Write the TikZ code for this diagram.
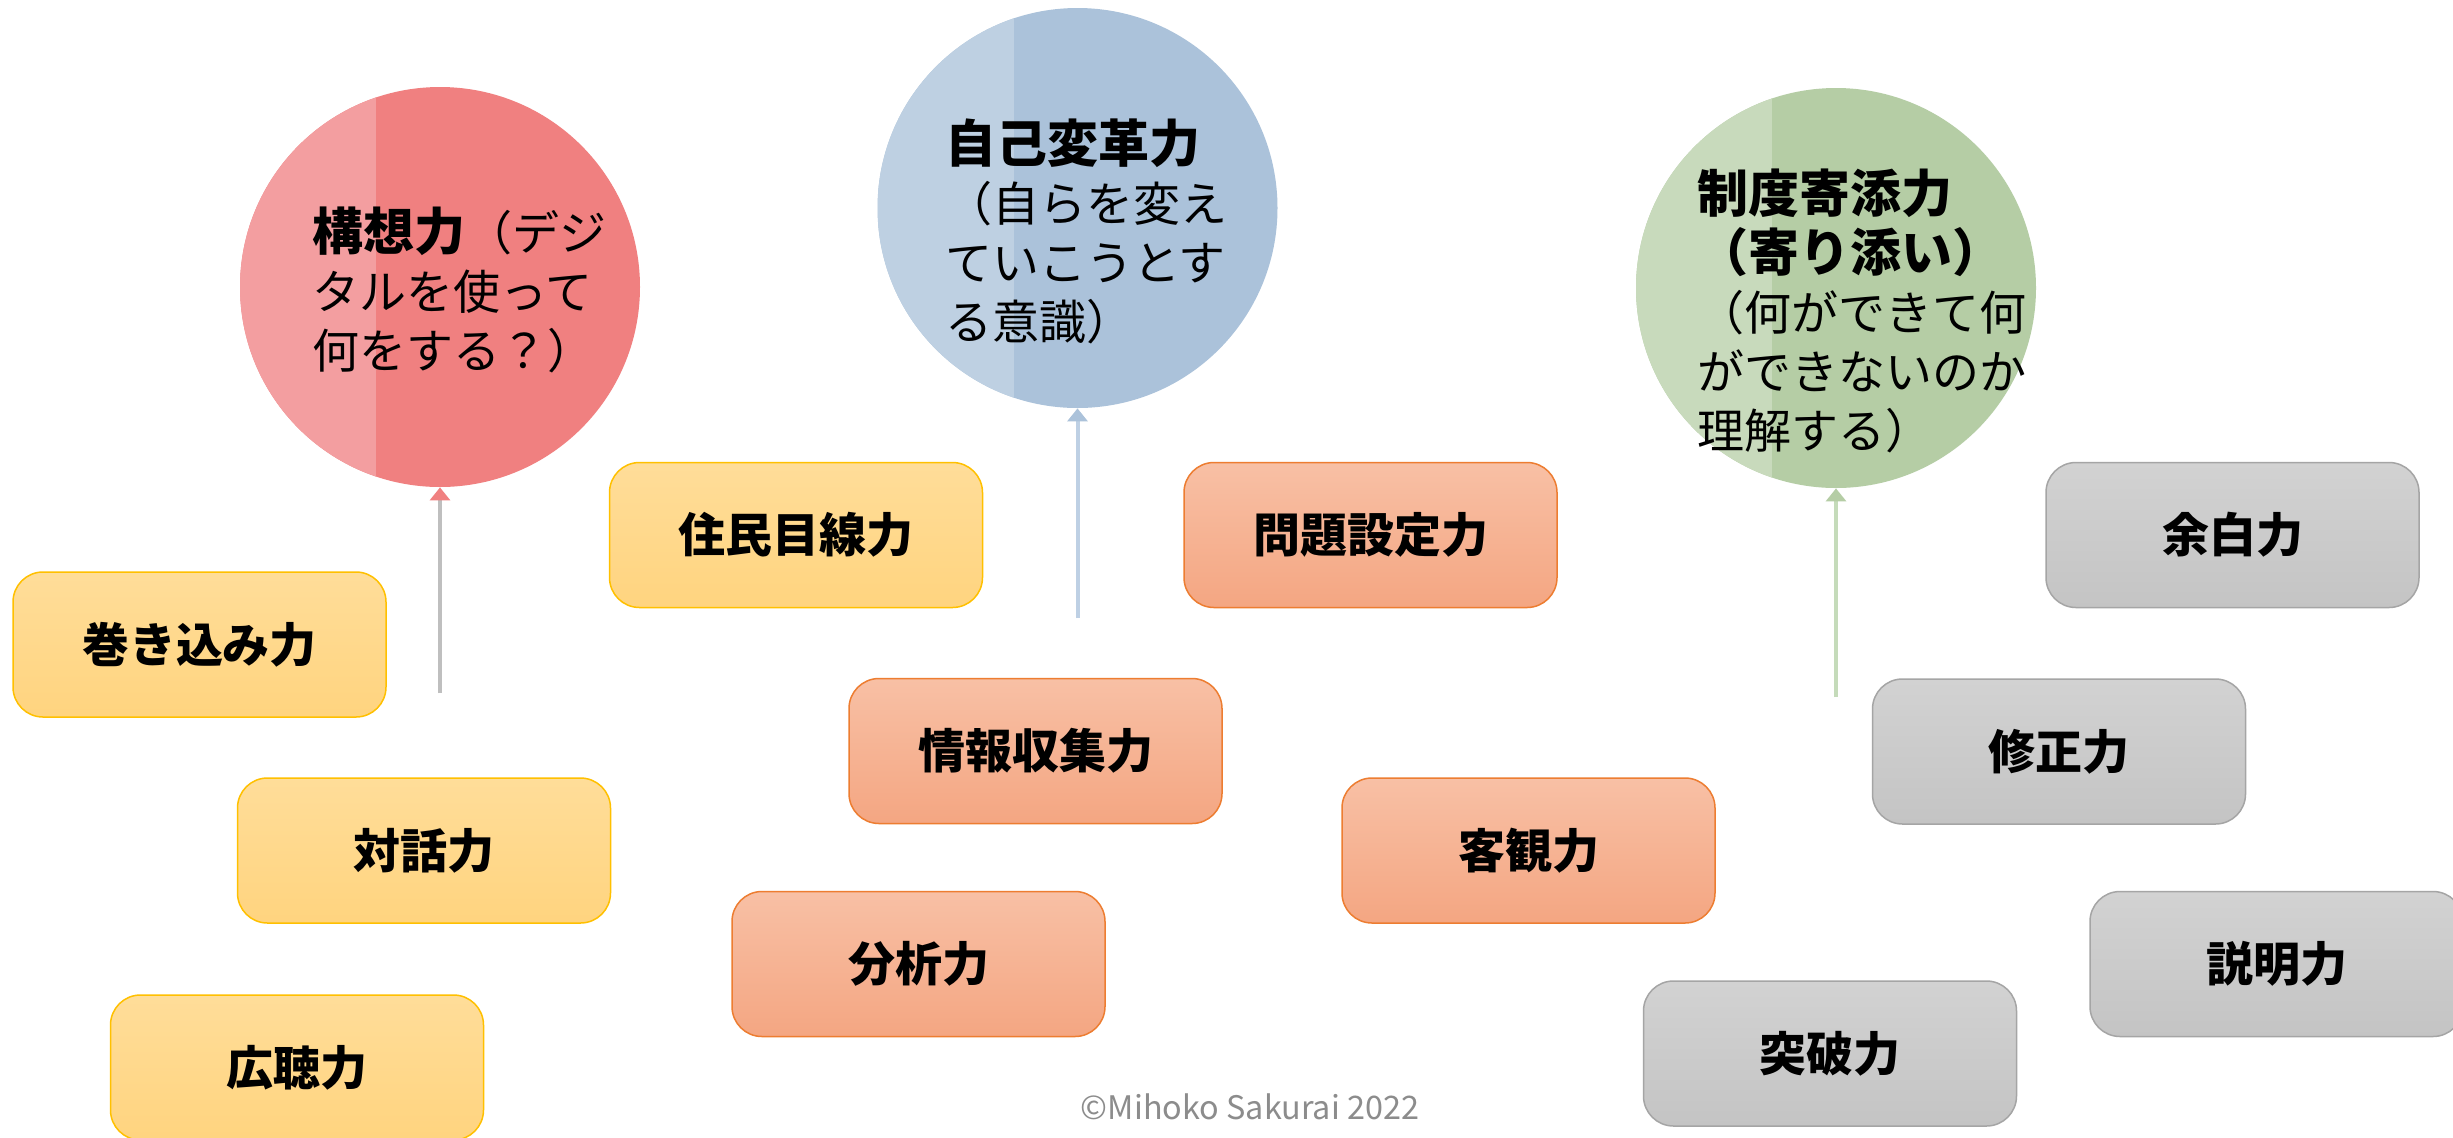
\documentclass[tikz,border=0pt]{standalone}
\usepackage{fontspec}
\setmainfont{Noto Sans CJK JP}
\usetikzlibrary{arrows.meta,shapes.geometric}
\definecolor{redR}{RGB}{240,128,128}
\definecolor{redL}{RGB}{243,158,160}
\definecolor{bluR}{RGB}{171,194,218}
\definecolor{bluL}{RGB}{190,208,226}
\definecolor{grnR}{RGB}{181,205,165}
\definecolor{grnL}{RGB}{200,218,188}
\definecolor{yelT}{RGB}{255,221,153}
\definecolor{yelB}{RGB}{255,212,127}
\definecolor{yelD}{RGB}{255,192,0}
\definecolor{orgT}{RGB}{248,192,165}
\definecolor{orgB}{RGB}{244,166,130}
\definecolor{orgD}{RGB}{237,125,49}
\definecolor{gryT}{RGB}{210,210,210}
\definecolor{gryB}{RGB}{196,196,196}
\definecolor{gryD}{RGB}{165,165,165}
\definecolor{arrGray}{RGB}{191,191,191}
\definecolor{arrBlue}{RGB}{190,208,228}
\definecolor{arrGreen}{RGB}{197,219,186}
\definecolor{copyC}{RGB}{140,140,140}
\newcommand{\mybigb}{\fontsize{25.5pt}{29.5pt}\selectfont\bfseries}
\tikzset{
  balloon/.style 2 args={circle, minimum size=200pt, inner sep=0pt, fill=#1,
    path picture={\fill[#2] (path picture bounding box.north west) rectangle ([xshift=68pt]path picture bounding box.south west);}},
  balltext/.style={anchor=north west, inner sep=0pt, align=left,
    font=\fontsize{23.5pt}{29.5pt}\selectfont},
  skillbox/.style={rounded corners=15pt, minimum width=186.5pt, minimum height=72.5pt,
    inner sep=0pt, line width=0.75pt, font=\fontsize{23.5pt}{28pt}\selectfont\bfseries},
  yelbox/.style={skillbox, draw=yelD, top color=yelT, bottom color=yelB},
  orgbox/.style={skillbox, draw=orgD, top color=orgT, bottom color=orgB},
  grybox/.style={skillbox, draw=gryD, top color=gryT, bottom color=gryB},
  risearrow/.style 2 args={draw=#1, line width=2pt,
    -{Triangle[width=10pt,length=6.5pt,color=#2]}}
}
\begin{document}
\begin{tikzpicture}[x=0.5pt,y=-0.5pt]
\useasboundingbox (0,0) rectangle (2453,1137);
\fill[white] (0,0) rectangle (2453,1137);

% balloons
\node[balloon={redR}{redL}] (red) at (440,287) {};
\node[balloon={bluR}{bluL}] (blue) at (1077.5,208) {};
\node[balloon={grnR}{grnL}] (green) at (1836,288) {};

\node[balltext] (redtxt) at (312,206) {{\mybigb 構想力}（デジ\\タルを使って\\何をする？）};
\node[balltext] (bluetxt) at (945,118) {{\mybigb 自己変革力}\\（自らを変え\\ていこうとす\\る意識）};
\node[balltext] (greentxt) at (1697,168) {{\mybigb 制度寄添力}\\{\mybigb （寄り添い）}\\（何ができて何\\ができないのか\\理解する）};

% strings
\coordinate (rs) at (440,693);
\coordinate (bs) at (1077.5,618);
\coordinate (gs) at (1836,697);
\draw[risearrow={arrGray}{redR}] (rs) -- (red.south);
\draw[risearrow={arrBlue}{bluR}] (bs) -- (blue.south);
\draw[risearrow={arrGreen}{grnR}] (gs) -- (green.south);

% yellow boxes
\node[yelbox] (makikomi) at (199.5,644.5) {巻き込み力};
\node[yelbox] (jumin) at (796,535) {住民目線力};
\node[yelbox] (taiwa) at (424,850.5) {対話力};
\node[yelbox] (kocho) at (297,1067.5) {広聴力};

% orange boxes
\node[orgbox] (mondai) at (1370.5,535) {問題設定力};
\node[orgbox] (joho) at (1035.5,751) {情報収集力};
\node[orgbox] (kyakkan) at (1528.5,850.5) {客観力};
\node[orgbox] (bunseki) at (918.5,964) {分析力};

% gray boxes
\node[grybox] (yohaku) at (2232.5,535) {余白力};
\node[grybox] (shusei) at (2059,751.5) {修正力};
\node[grybox] (setsumei) at (2276.5,964) {説明力};
\node[grybox] (toppa) at (1830,1053.5) {突破力};

\node[text=copyC, inner sep=0pt, font=\fontsize{16.2pt}{19pt}\selectfont] (copy) at (1250,1107) {©Mihoko Sakurai 2022};
\end{tikzpicture}
\end{document}
